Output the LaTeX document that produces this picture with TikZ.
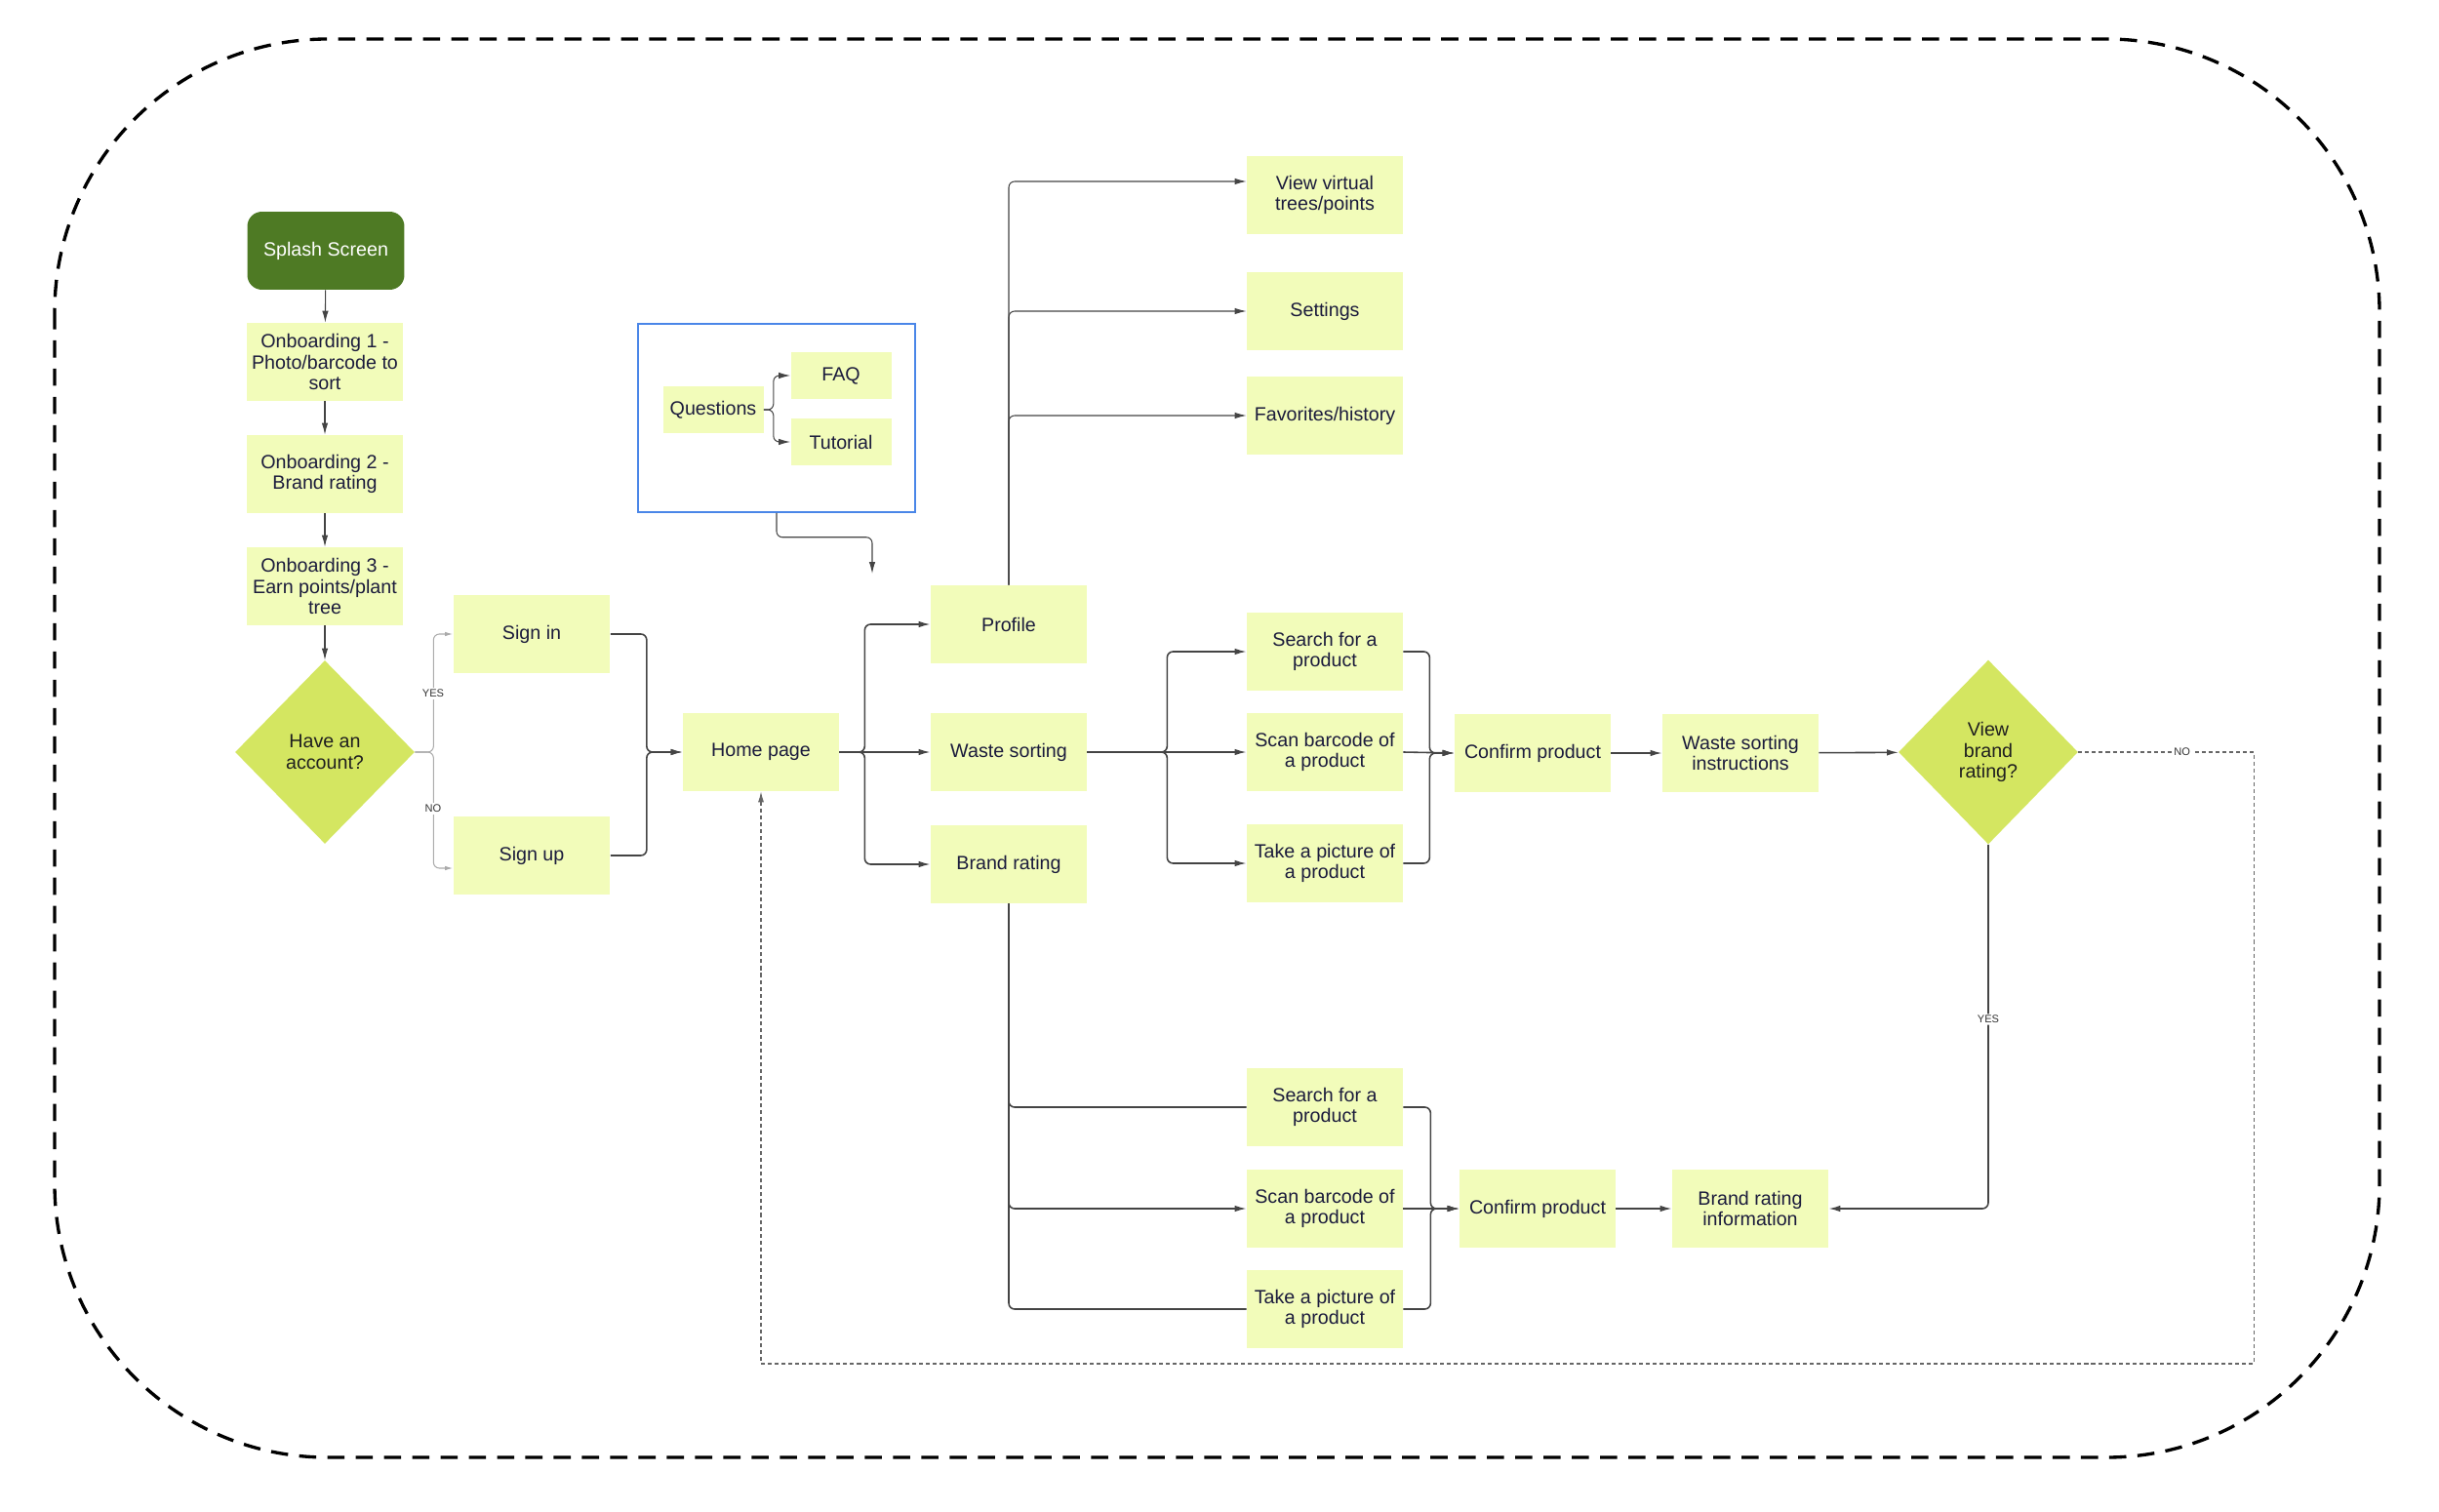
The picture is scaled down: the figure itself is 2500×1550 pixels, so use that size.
\documentclass[tikz,border=0pt]{standalone}
\usepackage{fontspec}
\setmainfont{Liberation Sans}
\usetikzlibrary{arrows.meta,shapes.geometric,calc}
\definecolor{boxfill}{HTML}{F2FCBA}
\definecolor{diafill}{HTML}{D4E661}
\definecolor{splashfill}{HTML}{4E7A24}
\definecolor{qblue}{HTML}{4A86E8}
\definecolor{txtc}{HTML}{1B1B3C}
\definecolor{lnc}{HTML}{444444}
\definecolor{lightc}{HTML}{AAAAAA}
\begin{document}
\begin{tikzpicture}[x=0.02cm,y=-0.02cm,
  box/.style={fill=boxfill, minimum width=3.2cm, minimum height=1.6cm, align=center, text=txtc,
    font=\fontsize{11.2pt}{12.3pt}\selectfont, inner sep=1pt},
  sbox/.style={box, minimum width=2.06cm, minimum height=0.98cm},
  decision/.style={diamond, fill=diafill, minimum width=3.68cm, minimum height=3.76cm, inner sep=0pt,
    align=center, text=black!88, font=\fontsize{11.2pt}{12.3pt}\selectfont},
  ar/.style={draw=lnc, line width=0.9pt, rounded corners=0.12cm, -{Latex[length=0.24cm,width=0.13cm]}},
  plain/.style={draw=lnc, line width=0.9pt, rounded corners=0.12cm},
  lightar/.style={draw=lightc, line width=0.6pt, rounded corners=0.12cm, -{Latex[length=0.16cm,width=0.09cm]}},
  lbl/.style={fill=white, inner sep=1pt, font=\fontsize{6.3pt}{7pt}\selectfont, text=black!80},
  nodash/.style={draw=black!60, line width=0.6pt, dash pattern=on 2.3pt off 1.7pt, -{Latex[length=0.22cm,width=0.12cm]}}
]
\useasboundingbox (0,0) rectangle (2500,1550);

% outer frame
\draw[line width=1.9pt, dash pattern=on 10pt off 6.5pt, rounded corners=5.6cm] (56,40) rectangle (2439,1494);

% left column
\node[fill=splashfill, rounded corners=0.3cm, minimum width=3.22cm, minimum height=1.6cm, text=white,
  font=\fontsize{11.2pt}{12.3pt}\selectfont] (splash) at (334,257) {Splash Screen};
\node[box] (ob1) at (333,371) {Onboarding 1 -\\Photo/barcode to\\sort};
\node[box] (ob2) at (333,486) {Onboarding 2 -\\Brand rating};
\node[box] (ob3) at (333,601) {Onboarding 3 -\\Earn points/plant\\tree};
\node[decision] (acct) at (333,771) {Have an\\account?};

\node[box, minimum width=3.22cm, minimum height=1.62cm] (signin) at (545,650) {Sign in};
\node[box, minimum width=3.22cm, minimum height=1.62cm] (signup) at (545,877) {Sign up};
\node[box] (home) at (780,771) {Home page};

% questions group
\node[draw=qblue, line width=0.9pt, minimum width=5.68cm, minimum height=3.86cm] (qbox) at (796,428.5) {};
\node[sbox] (quest) at (731,420) {Questions};
\node[sbox] (faq) at (862,385) {FAQ};
\node[sbox] (tut) at (862,453) {Tutorial};
\coordinate (qend) at (894,588);

% middle column
\node[box] (profile) at (1034,640) {Profile};
\node[box] (waste) at (1034,771) {Waste sorting};
\node[box] (brand) at (1034,886) {Brand rating};

\node[box] (vv) at (1358,200) {View virtual\\trees/points};
\node[box] (sett) at (1358,319) {Settings};
\node[box] (fav) at (1358,426) {Favorites/history};

\node[box] (s1) at (1358,668) {Search for a\\product};
\node[box] (b1) at (1358,771) {Scan barcode of\\a product};
\node[box] (p1) at (1358,885) {Take a picture of\\a product};
\node[box] (conf1) at (1571,772) {Confirm product};
\node[box] (wsi) at (1784,772) {Waste sorting\\instructions};
\node[decision, minimum height=3.78cm] (vbr) at (2038,771) {View\\brand\\rating?};

\node[box] (s2) at (1358,1135) {Search for a\\product};
\node[box] (b2) at (1358,1239) {Scan barcode of\\a product};
\node[box] (p2) at (1358,1342) {Take a picture of\\a product};
\node[box] (conf2) at (1576,1239) {Confirm product};
\node[box] (bri) at (1794,1239) {Brand rating\\information};

% left column connectors
\draw[ar, line width=0.6pt] (splash) -- (ob1);
\draw[ar, line width=0.6pt] (ob1) -- (ob2);
\draw[ar, line width=0.6pt] (ob2) -- (ob3);
\draw[ar, line width=0.6pt] (ob3) -- (acct);

\draw[lightar] (acct.east) -- ++(19,0) |- (signin.west);
\draw[lightar] (acct.east) -- ++(19,0) |- ($(signup.west)+(0,13)$);
\node[lbl] (yeslbl) at (444,711) {YES};
\node[lbl] (nolbl) at (444,829) {NO};

\draw[ar] (signin.east) -- ++(37,0) |- (home.west);
\draw[ar] (signup.east) -- ++(37,0) |- (home.west);

\draw[ar] (home.east) -- ++(26,0) |- (profile.west);
\draw[ar] (home.east) -- (waste.west);
\draw[ar] (home.east) -- ++(26,0) |- (brand.west);

% questions connectors
\draw[ar, line width=0.6pt] (quest.east) -- ++(10,0) |- (faq.west);
\draw[ar, line width=0.6pt] (quest.east) -- ++(10,0) |- (tut.west);
\draw[ar, line width=0.6pt] (qbox.south) -- ++(0,25) -| (qend);

% profile branches
\draw[ar, line width=0.6pt] (profile.north) |- ($(vv.west)+(0,-14)$);
\draw[ar, line width=0.6pt] (profile.north) |- (sett.west);
\draw[ar, line width=0.6pt] (profile.north) |- (fav.west);

% waste sorting branches
\draw[ar] (waste.east) -- ++(82,0) |- (s1.west);
\draw[ar] (waste.east) -- (b1.west);
\draw[ar] (waste.east) -- ++(82,0) |- (p1.west);
\draw[ar] (s1.east) -- ++(27,0) |- (conf1.west);
\draw[ar] (b1.east) -- (conf1.west);
\draw[ar] (p1.east) -- ++(27,0) |- (conf1.west);
\draw[ar] (conf1) -- (wsi);
\draw[ar] (wsi) -- (vbr);

% brand rating branches
\draw[plain] (brand.south) |- (s2.west);
\draw[ar] (brand.south) |- (b2.west);
\draw[plain] (brand.south) |- (p2.west);
\draw[ar] (s2.east) -- ++(28,0) |- (conf2.west);
\draw[ar] (b2.east) -- (conf2.west);
\draw[ar] (p2.east) -- ++(28,0) |- (conf2.west);
\draw[ar] (conf2) -- (bri);

% decision outcomes
\draw[ar] (vbr.south) |- node[lbl, pos=0.24] (yeslbl2) {YES} (bri.east);
\draw[nodash] (vbr.east) -- node[lbl, pos=0.59] (nolbl2) {NO} ++(180,0) -- ++(0,627) -| (home.south);
\end{tikzpicture}
\end{document}
